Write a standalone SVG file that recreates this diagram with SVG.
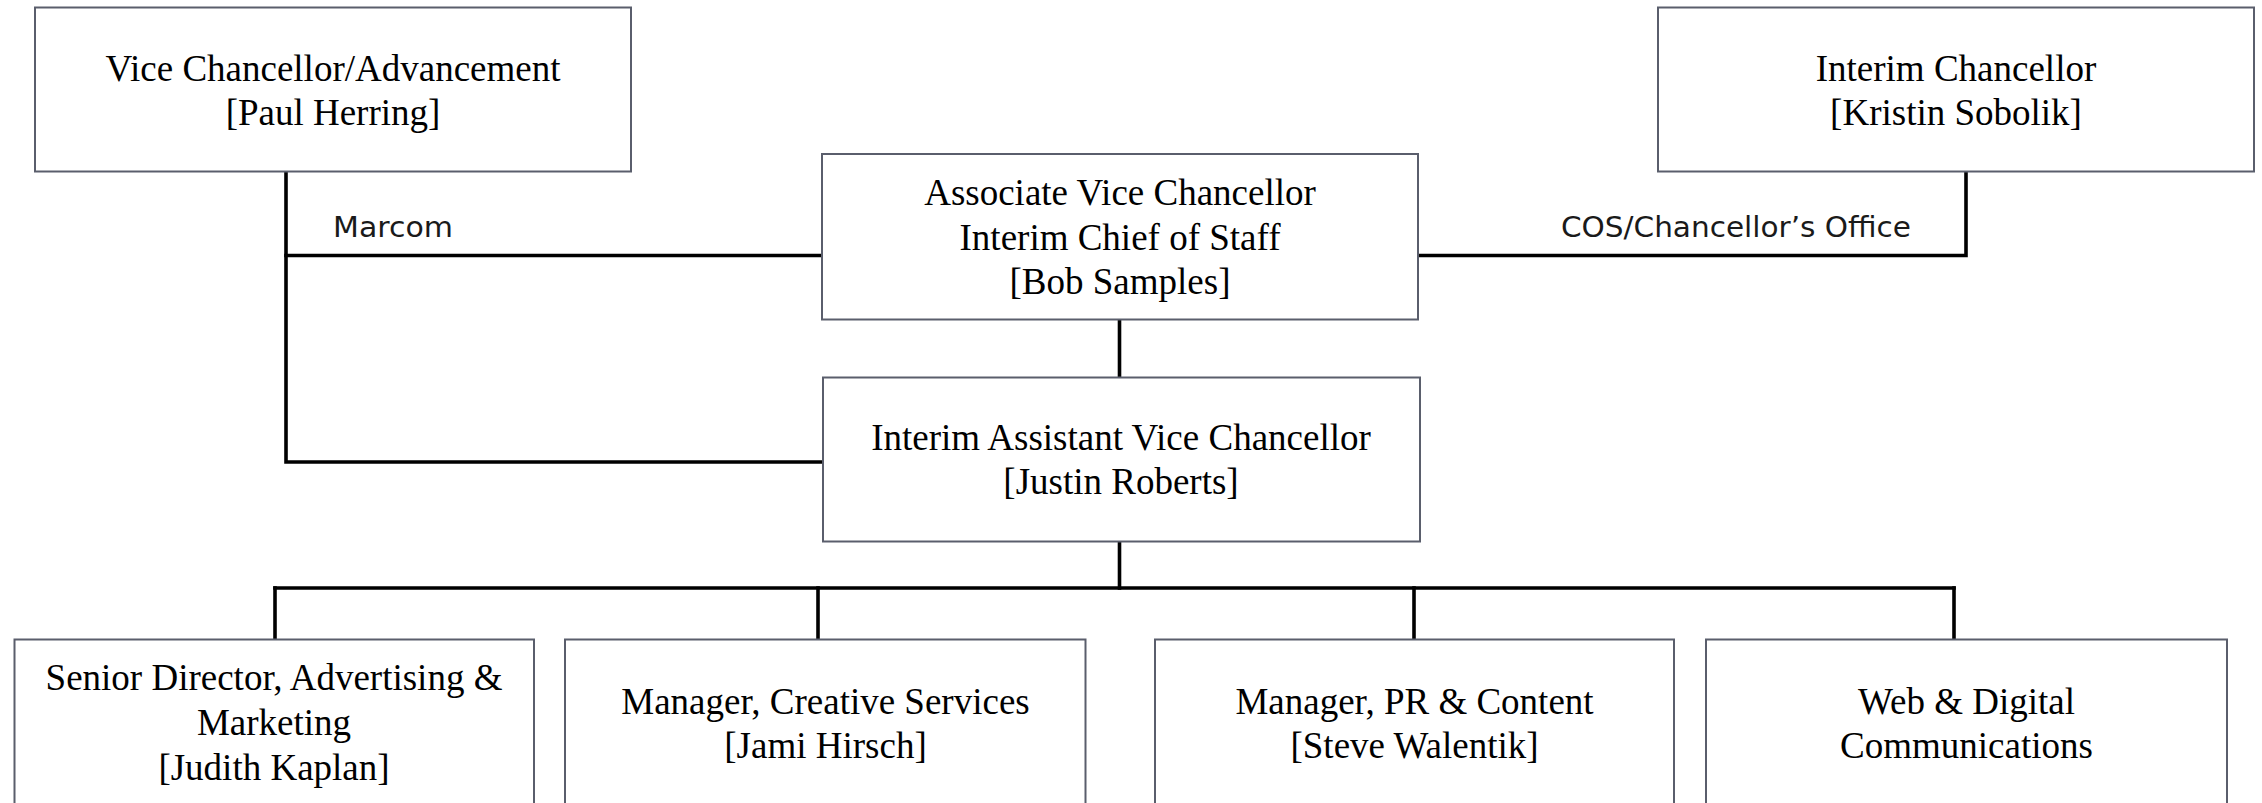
<svg xmlns="http://www.w3.org/2000/svg" width="2262" height="803" viewBox="0 0 2262 803">
<style>
.box{fill:#ffffff;stroke:#5a5e6c;stroke-width:2}
.t{font-family:"Liberation Serif","Times New Roman",serif;font-size:37px;fill:#000;text-anchor:middle}
.lbl{font-family:"DejaVu Sans","Liberation Sans",sans-serif;font-size:28px;fill:#1a1a1a}
.c{fill:none;stroke:#000;stroke-width:3.6;stroke-linecap:square}
</style>
<rect width="2262" height="803" fill="#ffffff"/>
<g id="connectors">
<path class="c" d="M286 172 V462 H822"/>
<path class="c" d="M286 255.5 H821"/>
<path class="c" d="M1966 172 V255.5 H1419"/>
<path class="c" d="M1119.5 320 V377"/>
<path class="c" d="M1119.5 542 V588"/>
<path class="c" d="M275 588 H1954"/>
<path class="c" d="M275 588 V639"/>
<path class="c" d="M818 588 V639"/>
<path class="c" d="M1414 588 V639"/>
<path class="c" d="M1954 588 V639"/>
<text class="lbl" x="333" y="236.5" textLength="120" lengthAdjust="spacingAndGlyphs">Marcom</text>
<text class="lbl" x="1561" y="236.5" textLength="350" lengthAdjust="spacingAndGlyphs">COS/Chancellor’s Office</text>
</g>
<g id="vc-advancement">
<rect class="box" x="35" y="7.5" width="596" height="164"/>
<text class="t" x="333" y="80.5">Vice Chancellor/Advancement</text>
<text class="t" x="333" y="124.5">[Paul Herring]</text>
</g>
<g id="interim-chancellor">
<rect class="box" x="1658" y="7.5" width="596" height="164"/>
<text class="t" x="1956" y="80.5">Interim Chancellor</text>
<text class="t" x="1956" y="124.5">[Kristin Sobolik]</text>
</g>
<g id="assoc-vc">
<rect class="box" x="822" y="154" width="596" height="165.5"/>
<text class="t" x="1120" y="205">Associate Vice Chancellor</text>
<text class="t" x="1120" y="249.5">Interim Chief of Staff</text>
<text class="t" x="1120" y="293.5">[Bob Samples]</text>
</g>
<g id="interim-avc">
<rect class="box" x="823" y="377.5" width="597" height="164"/>
<text class="t" x="1121" y="450">Interim Assistant Vice Chancellor</text>
<text class="t" x="1121" y="494">[Justin Roberts]</text>
</g>
<g id="senior-director">
<rect class="box" x="14.5" y="639.5" width="519.5" height="180"/>
<text class="t" x="274" y="690">Senior Director, Advertising &amp;</text>
<text class="t" x="274" y="735">Marketing</text>
<text class="t" x="274" y="780">[Judith Kaplan]</text>
</g>
<g id="creative-services">
<rect class="box" x="565" y="639.5" width="520.5" height="180"/>
<text class="t" x="825.5" y="713.5">Manager, Creative Services</text>
<text class="t" x="825.5" y="758">[Jami Hirsch]</text>
</g>
<g id="pr-content">
<rect class="box" x="1155" y="639.5" width="519" height="180"/>
<text class="t" x="1414.5" y="713.5">Manager, PR &amp; Content</text>
<text class="t" x="1414.5" y="758">[Steve Walentik]</text>
</g>
<g id="web-digital">
<rect class="box" x="1706" y="639.5" width="521" height="180"/>
<text class="t" x="1966.5" y="713.5">Web &amp; Digital</text>
<text class="t" x="1966.5" y="758">Communications</text>
</g>
</svg>
